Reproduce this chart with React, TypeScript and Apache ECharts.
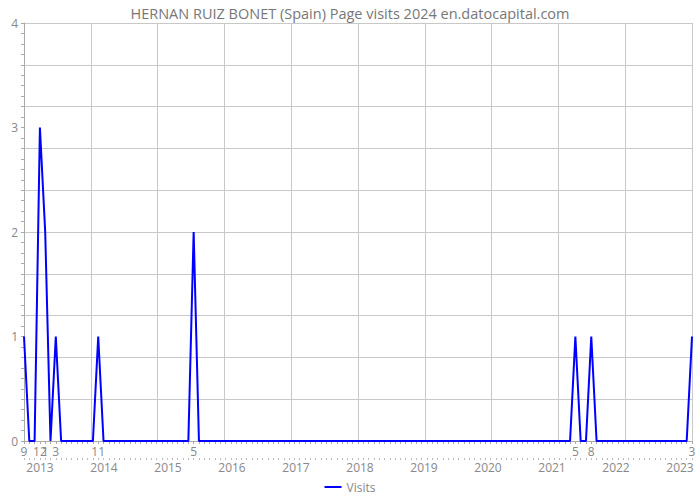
import React, { useEffect, useRef } from "react";
import * as echarts from "echarts";

const startYear = 2012;
const startMonth = 9;
const visits2012 = [1, 0, 0, 3];
const visits2013 = [2, 0, 1, 0, 0, 0, 0, 0, 0, 0, 1, 0];
const visits2014 = [0, 0, 0, 0, 0, 0, 0, 0, 0, 0, 0, 0];
const visits2015 = [0, 0, 0, 0, 2, 0, 0, 0, 0, 0, 0, 0];
const visits2016 = [0, 0, 0, 0, 0, 0, 0, 0, 0, 0, 0, 0];
const visits2017 = [0, 0, 0, 0, 0, 0, 0, 0, 0, 0, 0, 0];
const visits2018 = [0, 0, 0, 0, 0, 0, 0, 0, 0, 0, 0, 0];
const visits2019 = [0, 0, 0, 0, 0, 0, 0, 0, 0, 0, 0, 0];
const visits2020 = [0, 0, 0, 0, 0, 0, 0, 0, 0, 0, 0, 0];
const visits2021 = [0, 0, 0, 0, 1, 0, 0, 1, 0, 0, 0, 0];
const visits2022 = [0, 0, 0, 0, 0, 0, 0, 0, 0, 0, 0, 0];
const visits2023 = [0, 0, 1];
const yearLabels = [2013, 2014, 2015, 2016, 2017, 2018, 2019, 2020, 2021, 2022, 2023];
const yTicks = [0, 1, 2, 3, 4];

const visits = [
  ...visits2012, ...visits2013, ...visits2014, ...visits2015, ...visits2016,
  ...visits2017, ...visits2018, ...visits2019, ...visits2020, ...visits2021,
  ...visits2022, ...visits2023,
];
const categories = visits.map((_, i) => {
  const m0 = startMonth - 1 + i;
  const y = startYear + Math.floor(m0 / 12);
  const m = (m0 % 12) + 1;
  return `${y}-${m}`;
});

const FONT = "Open Sans";
const GRAY = "#888";
const GRID = "#c8c8c8";

export default function App() {
  const ref = useRef<HTMLDivElement>(null);
  useEffect(() => {
    const chart = echarts.init(ref.current!, null, { renderer: "svg" });
    chart.setOption({
      animation: false,
      title: {
        text: "HERNAN RUIZ BONET (Spain) Page visits 2024 en.datocapital.com",
        left: "center",
        top: 1,
        textStyle: { fontFamily: FONT, fontSize: 14.5, fontWeight: "normal", color: "#777" },
      },
      legend: {
        bottom: 2,
        left: "center",
        itemWidth: 17,
        itemHeight: 2,
        itemGap: 4,
        icon: "rect",
        textStyle: { fontFamily: FONT, fontSize: 12, color: GRAY },
        data: ["Visits"],
      },
      grid: { left: 24, right: 8, top: 23, bottom: 59, containLabel: false },
      xAxis: [
        {
          type: "category",
          data: categories,
          boundaryGap: false,
          axisLine: { lineStyle: { color: "#aaa" } },
          axisTick: { show: true, interval: 0, length: 3, lineStyle: { color: "#aaa" } },
          axisLabel: {
            interval: 0,
            margin: 4,
            fontFamily: FONT,
            fontSize: 12,
            color: GRAY,
            hideOverlap: false,
            formatter: (v: string, i: number) => (visits[i] > 0 ? v.split("-")[1] : ""),
          },
          splitLine: { show: false },
        },
        {
          type: "category",
          data: categories,
          boundaryGap: false,
          position: "bottom",
          offset: 17,
          axisLine: { show: true, onZero: false, lineStyle: { color: "rgba(0,0,0,0)" } },
          axisTick: { show: true, interval: 0, length: 2, lineStyle: { color: "#bbb" } },
          axisLabel: { show: false },
          splitLine: { show: false },
        },
        {
          type: "value",
          position: "bottom",
          offset: 16,
          min: 2012.75,
          max: 2023.1875,
          axisLine: { show: false, onZero: false },
          axisTick: { show: false },
          splitLine: { show: false },
          axisLabel: {
            customValues: yearLabels,
            margin: 4,
            fontFamily: FONT,
            fontSize: 12,
            color: GRAY,
            formatter: (v: number) => String(Math.round(v)),
          },
        },
        {
          type: "value",
          min: 0,
          max: 10,
          interval: 1,
          axisLine: { show: false },
          axisTick: { show: false },
          axisLabel: { show: false },
          splitLine: { show: true, lineStyle: { color: GRID, width: 1 } },
        },
      ],
      yAxis: [
        {
          type: "value",
          min: 0,
          max: 4,
          interval: 1,
          axisLine: { show: true, lineStyle: { color: "#aaa" } },
          axisTick: { show: true, length: 3, lineStyle: { color: "#aaa" } },
          minorTick: { show: true, splitNumber: 10, length: 3, lineStyle: { color: "#aaa" } },
          axisLabel: {
            margin: 6,
            fontFamily: FONT,
            fontSize: 12,
            color: GRAY,
            customValues: yTicks,
          },
          splitLine: { show: false },
        },
        {
          type: "value",
          min: 0,
          max: 4,
          interval: 0.4,
          axisLine: { show: false },
          axisTick: { show: false },
          axisLabel: { show: false },
          splitLine: { show: true, lineStyle: { color: GRID, width: 1 } },
        },
      ],
      series: [
        {
          name: "Visits",
          type: "line",
          data: visits,
          xAxisIndex: 0,
          yAxisIndex: 0,
          symbol: "none",
          lineStyle: { color: "#0000ff", width: 2 },
          itemStyle: { color: "#0000ff" },
          z: 5,
        },
      ],
    });
    return () => chart.dispose();
  }, []);
  return (
    <div
      ref={ref}
      style={{ position: "absolute", left: 0, top: 0, width: 700, height: 500 }}
    />
  );
}
